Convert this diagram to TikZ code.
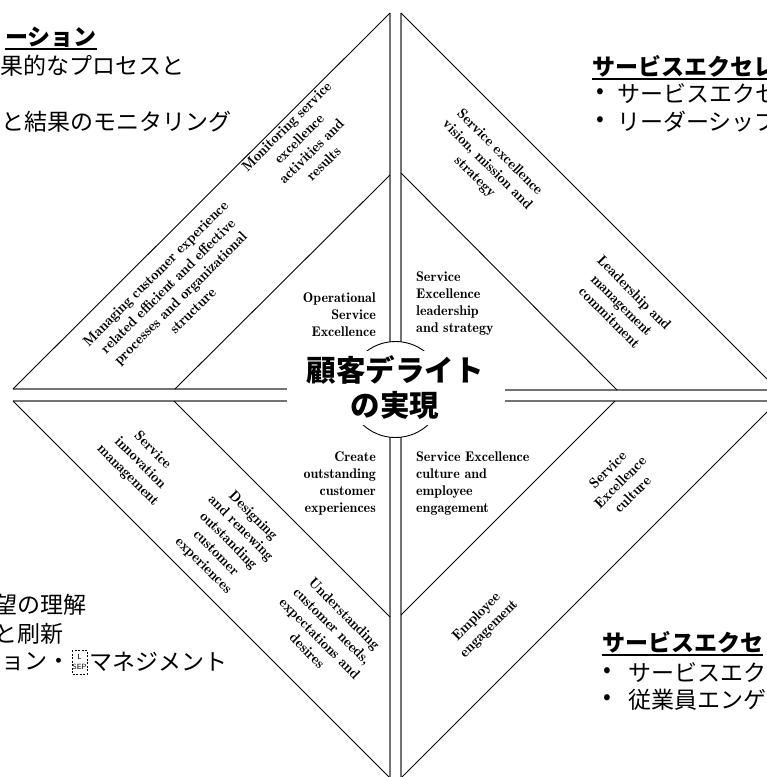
\documentclass[tikz,border=0pt]{standalone}
\usepackage{fontspec}
\newfontfamily\jp{Noto Sans CJK JP}
\newfontfamily\serifheavy{lmromandemi10-regular}[Extension=.otf]
\begin{document}
\begin{tikzpicture}[x=1pt,y=-1pt,
  edge/.style={draw=black, line width=0.9pt},
  axisline/.style={draw=black!55, line width=1.6pt},
  lbl/.style={font=\serifheavy\fontsize{14.5}{17.5}\selectfont, align=center, inner sep=0pt},
  inlbl/.style={font=\serifheavy\fontsize{14}{17}\selectfont, inner sep=0pt},
  jpt/.style={font=\jp\fontsize{23}{28}\selectfont, inner sep=0pt},
  jph/.style={font=\jp\bfseries\fontsize{23}{28}\selectfont, inner sep=0pt},
  uline/.style={draw=black, line width=2pt}]
\useasboundingbox (0,0) rectangle (767,777);
\clip (0,0) rectangle (767,777);
\fill[white] (0,0) rectangle (767,777);
% ---- vertices
\coordinate (tlA) at (13,389);   \coordinate (tlB) at (390,13);
\coordinate (tlI1) at (175,389); \coordinate (tlI2) at (390,175);
\coordinate (tlH) at (287,389);  \coordinate (tlV) at (390,342);
\coordinate (trA) at (401,13);   \coordinate (trB) at (778,390);
\coordinate (trI1) at (401,173); \coordinate (trI2) at (617,390);
\coordinate (trH) at (505,390);  \coordinate (trV) at (401,342);
\coordinate (blA) at (13,401);   \coordinate (blB) at (390,778);
\coordinate (blI1) at (174,401); \coordinate (blI2) at (390,617);
\coordinate (blH) at (287,401);  \coordinate (blV) at (390,437);
\coordinate (brA) at (778,401);  \coordinate (brB) at (401,778);
\coordinate (brI1) at (615,401); \coordinate (brI2) at (401,615);
\coordinate (brH) at (505,401);  \coordinate (brV) at (401,437);
\coordinate (ctr) at (395.5,389.5);
% ---- axis lines (gray)
\draw[axisline] (tlA) -- (tlH);
\draw[axisline] (tlB) -- (tlV);
\draw[axisline] (trB) -- (trH);
\draw[axisline] (trA) -- (trV);
\draw[axisline] (blA) -- (blH);
\draw[axisline] (blB) -- (blV);
\draw[axisline] (brA) -- (brH);
\draw[axisline] (brB) -- (brV);
% ---- diagonals
\draw[edge] (tlA) -- (tlB);
\draw[edge] (tlI1) -- (tlI2);
\draw[edge] (trA) -- (trB);
\draw[edge] (trI1) -- (trI2);
\draw[edge] (blA) -- (blB);
\draw[edge] (blI1) -- (blI2);
\draw[edge] (brA) -- (brB);
\draw[edge] (brI1) -- (brI2);
% ---- centre circle
\draw[edge] (ctr) circle[radius=48pt];
\fill[white] (338,351) rectangle (453,425);
\node[font=\jp\bfseries\fontsize{29.5}{35}\selectfont, align=center, inner sep=0pt] (goal) at (395,388) {顧客デライト\\の実現};
% ---- inner labels
\node[inlbl, align=right, anchor=east] (ops) at (376,315) {Operational\\Service\\Excellence};
\node[inlbl, align=left, anchor=west] (lead) at (416,304) {Service\\Excellence\\leadership\\and strategy};
\node[inlbl, align=right, anchor=east] (cx) at (376,483) {Create\\outstanding\\customer\\experiences};
\node[inlbl, align=left, anchor=west] (cult) at (416,484) {Service Excellence\\culture and\\employee\\engagement};
% ---- band labels
\node[lbl, rotate=45] (mon) at (305,145) {Monitoring service\\excellence\\activities and\\results};
\node[lbl, rotate=45] (man) at (174,292) {Managing customer experience\\related efficient and effective\\processes and organizational\\structure};
\node[lbl, rotate=-45] (vis) at (487,165) {Service excellence\\vision, mission and\\strategy};
\node[lbl, rotate=-45] (lmc) at (622,305) {Leadership and\\management\\commitment};
\node[lbl, rotate=-45] (inn) at (140,463) {Service\\innovation\\management};
\node[lbl, rotate=-45] (des) at (228,541) {Designing\\and renewing\\outstanding\\customer\\experiences};
\node[lbl, rotate=-45] (und) at (326,632) {Understanding\\customer needs,\\expectations and\\desires};
\node[lbl, rotate=45] (sec) at (620,482) {Service\\Excellence\\culture};
\node[lbl, rotate=45] (emp) at (483,623) {Employee\\engagement};
% ---- Japanese side texts: top left
\node[jph, anchor=east] (tlh) at (97,37) {ーション};
\draw[uline] ([yshift=-3.5pt]tlh.base west) -- ([yshift=-3.5pt]tlh.base east);
\node[jpt, anchor=east] (tl1) at (185,66) {果的なプロセスと};
\node[jpt, anchor=east] (tl2) at (232,122) {と結果のモニタリング};
% top right
\node[jph, anchor=west] (trh) at (592,66) {サービスエクセレ};
\draw[uline] ([yshift=-3.5pt]trh.base west) -- ([yshift=-3.5pt]trh.base east);
\node[jpt] (trb1) at (600,94) {•};
\node[jpt, anchor=west] (tr1) at (617,94) {サービスエクセ};
\node[jpt] (trb2) at (600,122) {•};
\node[jpt, anchor=west] (tr2) at (617,122) {リーダーシップ};
% bottom left
\node[jpt, anchor=east] (bl1) at (87,605) {望の理解};
\node[jpt, anchor=east] (bl2) at (64,634) {と刷新};
\node[jpt, anchor=east] (bl3a) at (71,662) {ョン・};
\coordinate (lsepA) at (72,650); \coordinate (lsepB) at (87,674);
\draw[black, dash pattern=on 2pt off 1.5pt, line width=1pt] (lsepA) rectangle (lsepB);
\node[inner sep=0pt, font=\sffamily\fontsize{7.5}{10}\selectfont, align=center] (lsep) at (79.5,662) {L\\SEP};
\node[jpt, anchor=east] (bl3b) at (228,662) {マネジメント};
% bottom right
\node[jph, anchor=west] (brh) at (602,642) {サービスエクセ};
\draw[uline] ([yshift=-3.5pt]brh.base west) -- ([yshift=-3.5pt]brh.base east);
\node[jpt] (brb1) at (607,673) {•};
\node[jpt, anchor=west] (br1) at (628,673) {サービスエク};
\node[jpt] (brb2) at (607,700) {•};
\node[jpt, anchor=west] (br2) at (628,700) {従業員エンゲ};
\end{tikzpicture}
\end{document}
